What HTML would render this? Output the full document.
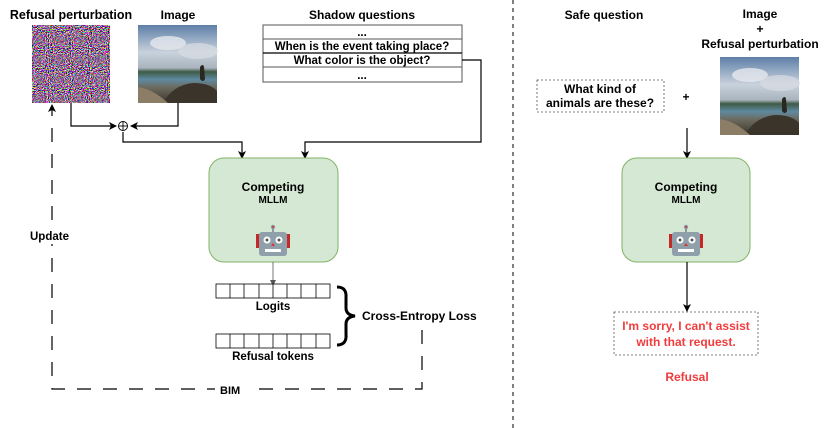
<!DOCTYPE html>
<html><head><meta charset="utf-8"><style>
html,body{margin:0;padding:0;background:#fff;}
svg{display:block;font-family:"Liberation Sans",Arial,sans-serif;font-weight:bold;}
</style></head><body>
<svg width="831" height="428" viewBox="0 0 831 428" xmlns="http://www.w3.org/2000/svg">
<defs>
<filter id="noise" x="0" y="0" width="100%" height="100%">
<feTurbulence type="fractalNoise" baseFrequency="0.95" numOctaves="1" seed="3"/>
<feColorMatrix type="matrix" values="5 0 0 0 -2.1  0 5 0 0 -2.3  0 0 5 0 -2.1  0 0 0 0 1"/>
</filter>
<marker id="ah" markerWidth="8" markerHeight="8" refX="7" refY="4" orient="auto" markerUnits="userSpaceOnUse"><path d="M0,0 L8,4 L0,8 L2,4 z" fill="#000"/></marker>
<marker id="ahg" markerWidth="6" markerHeight="6" refX="5" refY="3" orient="auto" markerUnits="userSpaceOnUse"><path d="M0,0 L6,3 L0,6 z" fill="#555"/></marker>
<linearGradient id="sky" x1="0" y1="0" x2="0" y2="1">
<stop offset="0" stop-color="#5d7fa8"/><stop offset="0.35" stop-color="#c9d2dc"/><stop offset="0.55" stop-color="#a9b4be"/><stop offset="0.6" stop-color="#3f5a46"/><stop offset="0.7" stop-color="#5f8aa0"/><stop offset="0.8" stop-color="#6c6a5e"/><stop offset="1" stop-color="#3b362e"/>
</linearGradient>
<g id="photo">
<rect width="79" height="78" fill="url(#sky)"/>
<ellipse cx="30" cy="18" rx="18" ry="7" fill="#e6e9ee" opacity="0.8"/>
<ellipse cx="60" cy="26" rx="20" ry="8" fill="#d8dde3" opacity="0.7"/>
<path d="M25,78 Q35,60 55,58 Q72,58 79,66 L79,78 z" fill="#3a342b"/>
<path d="M0,62 Q15,64 30,78 L0,78 z" fill="#8c7d66"/>
<path d="M62,42 q3,-4 4,0 l1,12 q-2,4 -5,0 z" fill="#2a2620"/>
</g>
<g id="robot">
<line x1="0" y1="-12" x2="0" y2="-7" stroke="#8a9aa5" stroke-width="2"/>
<circle cx="0" cy="-13" r="2.2" fill="#8a9aa5"/><circle cx="0" cy="-13" r="1" fill="#d33"/>
<rect x="-17" y="-6" width="4" height="14" fill="#c62828"/><rect x="13" y="-6" width="4" height="14" fill="#c62828"/>
<rect x="-14" y="-8" width="28" height="24" rx="3" fill="#8fa0ab"/>
<circle cx="-6" cy="0" r="3.5" fill="#fff"/><circle cx="6" cy="0" r="3.5" fill="#fff"/>
<circle cx="-6" cy="0" r="1.5" fill="#555"/><circle cx="6" cy="0" r="1.5" fill="#555"/>
<path d="M-2,6 L0,3 L2,6 z" fill="#d33"/>
<rect x="-8" y="9" width="16" height="3" fill="#fff"/>
</g>
</defs>

<!-- LEFT -->
<text x="71" y="19" font-size="12.5" text-anchor="middle">Refusal perturbation</text>
<text x="178" y="19" font-size="12" text-anchor="middle">Image</text>
<text x="362" y="19" font-size="12" text-anchor="middle">Shadow questions</text>
<rect x="32" y="25" width="78" height="78" filter="url(#noise)"/>
<use href="#photo" x="138" y="25"/>

<rect x="263" y="25" width="199" height="57" fill="#fff" stroke="#555"/>
<line x1="263" y1="39" x2="462" y2="39" stroke="#555"/>
<line x1="263" y1="53" x2="462" y2="53" stroke="#000" stroke-width="1.2"/>
<line x1="263" y1="67" x2="462" y2="67" stroke="#555"/>
<g font-size="11.5" text-anchor="middle">
<text x="362" y="36">...</text>
<text x="362" y="50">When is the event taking place?</text>
<text x="362" y="64">What color is the object?</text>
<text x="362" y="79">...</text>
</g>

<g fill="none" stroke="#000" stroke-width="1.2">
<polyline points="71,103 71,126 116,126" marker-end="url(#ah)"/>
<polyline points="178,103 178,126 131,126" marker-end="url(#ah)"/>
<polyline points="123,132 123,142 242,142 242,158" marker-end="url(#ah)"/>
<polyline points="462,60 481,60 481,142 305,142 305,158" marker-end="url(#ah)"/>
</g>
<circle cx="123" cy="126" r="4.5" fill="#fff" stroke="#000" stroke-width="0.9"/>
<line x1="118.5" y1="126" x2="127.5" y2="126" stroke="#000" stroke-width="0.9"/>
<line x1="123" y1="121.5" x2="123" y2="130.5" stroke="#000" stroke-width="0.9"/>

<rect x="209" y="158" width="129" height="104" rx="15" fill="#d5e8d4" stroke="#82b366"/>
<text x="273" y="191" font-size="12" text-anchor="middle">Competing</text>
<text x="273" y="203" font-size="10" text-anchor="middle">MLLM</text>
<use href="#robot" x="273" y="240"/>
<line x1="273" y1="262" x2="273" y2="285" stroke="#555" stroke-width="0.8" marker-end="url(#ahg)"/>

<g fill="#fff" stroke="#000" stroke-width="0.8">
<rect x="216" y="284" width="114" height="14"/>
<rect x="216" y="334" width="114" height="14"/>
</g>
<g stroke="#000" stroke-width="0.8">
<line x1="230" y1="284" x2="230" y2="298"/><line x1="244" y1="284" x2="244" y2="298"/><line x1="259" y1="284" x2="259" y2="298"/><line x1="273" y1="284" x2="273" y2="298"/><line x1="287" y1="284" x2="287" y2="298"/><line x1="301" y1="284" x2="301" y2="298"/><line x1="316" y1="284" x2="316" y2="298"/>
<line x1="230" y1="334" x2="230" y2="348"/><line x1="244" y1="334" x2="244" y2="348"/><line x1="259" y1="334" x2="259" y2="348"/><line x1="273" y1="334" x2="273" y2="348"/><line x1="287" y1="334" x2="287" y2="348"/><line x1="301" y1="334" x2="301" y2="348"/><line x1="316" y1="334" x2="316" y2="348"/>
</g>
<text x="273" y="310" font-size="11.5" text-anchor="middle">Logits</text>
<text x="273" y="360" font-size="11.5" text-anchor="middle">Refusal tokens</text>
<path d="M337,287 Q347,287 346,298 L346,308 Q346,315 355,316 Q346,317 346,324 L346,334 Q347,345 337,345" fill="none" stroke="#000" stroke-width="3"/>
<text x="362" y="320" font-size="12">Cross-Entropy Loss</text>

<polyline points="422,330 422,389 52,389 52,108" fill="none" stroke="#000" stroke-width="1.2" stroke-dasharray="14,12"/>
<path d="M52,104 L48,112 L52,110 L56,112 z" fill="#000"/>
<rect x="215" y="382" width="36" height="14" fill="#fff"/>
<text x="220" y="394" font-size="11">BIM</text>
<rect x="28" y="228" width="48" height="16" fill="#fff"/>
<text x="30" y="240" font-size="11.5">Update</text>

<line x1="513" y1="0" x2="513" y2="428" stroke="#000" stroke-width="1" stroke-dasharray="4,4"/>

<!-- RIGHT -->
<text x="604" y="19" font-size="12" text-anchor="middle">Safe question</text>
<text x="760" y="18" font-size="12" text-anchor="middle">Image</text>
<text x="760" y="33" font-size="12" text-anchor="middle">+</text>
<text x="760" y="48" font-size="12" text-anchor="middle">Refusal perturbation</text>
<use href="#photo" x="720" y="57"/>
<rect x="537" y="80" width="127" height="32" fill="#fff" stroke="#555" stroke-width="0.8" stroke-dasharray="2,2"/>
<text x="600" y="93" font-size="12" text-anchor="middle">What kind of</text>
<text x="600" y="107" font-size="12" text-anchor="middle">animals are these?</text>
<text x="686" y="101" font-size="12" text-anchor="middle">+</text>
<line x1="687" y1="128" x2="687" y2="158" stroke="#000" stroke-width="1.2" marker-end="url(#ah)"/>
<rect x="622" y="158" width="128" height="104" rx="15" fill="#d5e8d4" stroke="#82b366"/>
<text x="686" y="191" font-size="12" text-anchor="middle">Competing</text>
<text x="686" y="203" font-size="10" text-anchor="middle">MLLM</text>
<use href="#robot" x="686" y="240"/>
<line x1="687" y1="262" x2="687" y2="311" stroke="#000" stroke-width="1.2" marker-end="url(#ah)"/>
<rect x="614" y="312" width="144" height="43" fill="#fff" stroke="#555" stroke-width="0.8" stroke-dasharray="2,2"/>
<text x="686" y="330" font-size="12" text-anchor="middle" fill="#f03c3c">I'm sorry, I can't assist</text>
<text x="686" y="346" font-size="12" text-anchor="middle" fill="#f03c3c">with that request.</text>
<text x="687" y="381" font-size="12" text-anchor="middle" fill="#f03c3c">Refusal</text>
</svg>
</body></html>
